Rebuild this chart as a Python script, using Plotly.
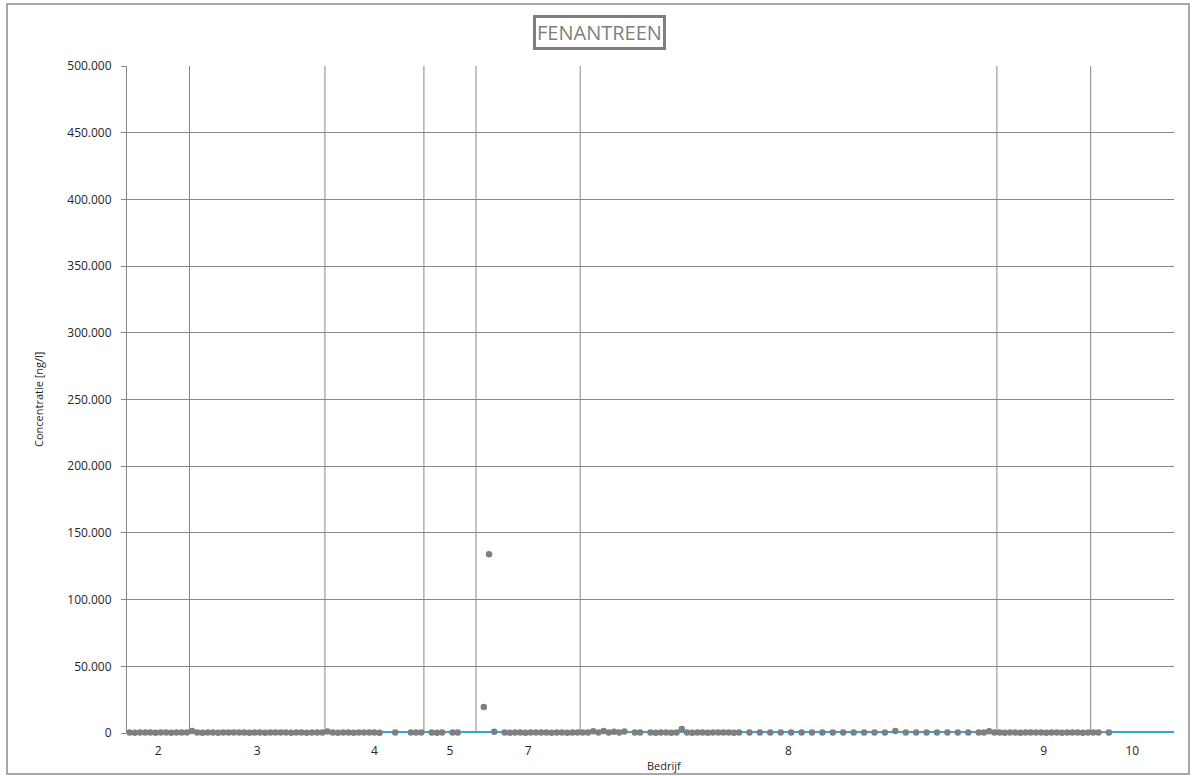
import plotly.graph_objects as go

# ---------------- data ----------------
group_labels = ["2", "3", "4", "5", "7", "8", "9", "10"]

N = None
vals_2 = [300, 250, 400, 350, 300, 280, 320, 300, 260, 310, 290, 330]
vals_3 = [1500, 300, 280, 320, 300, 260, 310, 290, 300, 350, 300, 280, 320,
          300, 260, 310, 290, 330, 300, 280, 320, 300, 260, 310, 290, 300]
vals_4 = [1200, 300, 280, 320, 300, 260, 310, 290, 330, 300, 280, N, N,
          300, N, N, 320, 300, 290]
vals_5 = [N, 300, 280, 320, N, 300, 290, N, N, N]
vals_7 = [N, 19500, 134000, 1000, N, 300, 280, 320, 300, 260, 310, 290, 330,
          300, 280, 320, 300, 260, 310, 290]
vals_8 = [400, 300, 1300, 400, 1500, 300, 1000, 400, 1200, N,
          300, 350, N, 300, 280, 320, 300, 260, 310, 3000,
          300, 280, 320, 300, 260, 310, 290, 330, 300, 280,
          320, N, 300, N, 300, N, 300, N, 300, N,
          300, N, 300, N, 300, N, 300, N, 300, N,
          300, N, 300, N, 300, N, 300, N, 300, N,
          1500, N, 300, N, 300, N, 300, N, 300, N,
          300, N, 300, N, 300, N, 300, 300, 1400, 300]
vals_9 = [300, 280, 320, 300, 260, 310, 290, 330, 300, 280, 320, 300, 260,
          310, 290, 300, 280, 320]
vals_10 = [300, 300, N, 300, N, N, N, N, N, N, N, N, N, N, N, N]

groups = [vals_2, vals_3, vals_4, vals_5, vals_7, vals_8, vals_9, vals_10]
norm_value = 0

y_ticks = [0, 50000, 100000, 150000, 200000, 250000, 300000, 350000, 400000, 450000, 500000]

# ---------------- build ----------------
values = [v for g in groups for v in g]
x_idx = list(range(len(values)))
counts = [len(g) for g in groups]
bounds = []
centers = []
start = 0
for c in counts:
    centers.append(start + (c - 1) / 2)
    start += c
    bounds.append(start - 0.5)
bounds = bounds[:-1]
n_total = len(values)

GRAY = "#878787"
FONT = "Open Sans"

fig = go.Figure()
fig.add_trace(go.Scatter(
    x=[-0.5, n_total - 0.5], y=[norm_value, norm_value], mode="lines",
    line=dict(color="#35A2E0", width=4), hoverinfo="skip", showlegend=False,
    cliponaxis=False))
fig.add_trace(go.Scatter(
    x=x_idx, y=values, mode="markers",
    marker=dict(color="#7F7F7F", size=6.5, line=dict(width=0)),
    showlegend=False, cliponaxis=False))

for b in bounds:
    fig.add_shape(type="line", xref="x", yref="paper", x0=b, x1=b, y0=0, y1=1,
                  line=dict(color=GRAY, width=1), layer="below")

# outer frame
fig.add_shape(type="rect", xref="paper", yref="paper",
              x0=(7 - 127) / 1047, x1=(1189 - 127) / 1047,
              y0=(733 - 774) / 667, y1=(733 - 4) / 667,
              line=dict(color="#8C8C8C", width=1.5))

fig.add_annotation(text="FENANTREEN", xref="paper", yref="paper",
                   x=(599 - 127) / 1047, y=(733 - 32.5) / 667,
                   xanchor="center", yanchor="middle", showarrow=False,
                   font=dict(family=FONT, size=20, color="#7F7F7F"),
                   bordercolor="#7F7F7F", borderwidth=3, borderpad=1,
                   bgcolor="white")

fig.add_annotation(text="Concentratie [ng/l]", xref="paper", yref="paper",
                   x=(38 - 127) / 1047, y=(733 - 400) / 667, textangle=-90,
                   xanchor="center", yanchor="middle", showarrow=False,
                   font=dict(family=FONT, size=11, color="#262626"))
fig.add_annotation(text="Bedrijf", xref="paper", yref="paper",
                   x=(664 - 127) / 1047, y=(733 - 765) / 667,
                   xanchor="center", yanchor="middle", showarrow=False,
                   font=dict(family=FONT, size=11, color="#262626"))

fig.update_layout(
    width=1192, height=776,
    margin=dict(l=127, r=18, t=66, b=43),
    paper_bgcolor="white", plot_bgcolor="white",
    separators=",.",
    font=dict(family=FONT, size=12, color="#262626"),
    xaxis=dict(range=[-0.5, n_total - 0.5], tickmode="array",
               tickvals=centers, ticktext=group_labels,
               showgrid=False, zeroline=False, showline=False,
               ticks="outside", ticklen=7, tickcolor="rgba(0,0,0,0)",
               tickfont=dict(family=FONT, size=12, color="#262626")),
    yaxis=dict(range=[0, 500000], tickmode="array", tickvals=y_ticks,
               tickformat=",.0f", showgrid=True, gridcolor=GRAY, gridwidth=1,
               zeroline=False, showline=True, linecolor=GRAY, linewidth=1,
               ticks="outside", ticklen=5, tickcolor=GRAY,
               ticklabelstandoff=7,
               tickfont=dict(family=FONT, size=12, color="#262626")),
)

fig.write_html("out.html", config={"displayModeBar": False},
               post_script="document.body.style.margin='0';document.body.style.overflow='hidden';")
